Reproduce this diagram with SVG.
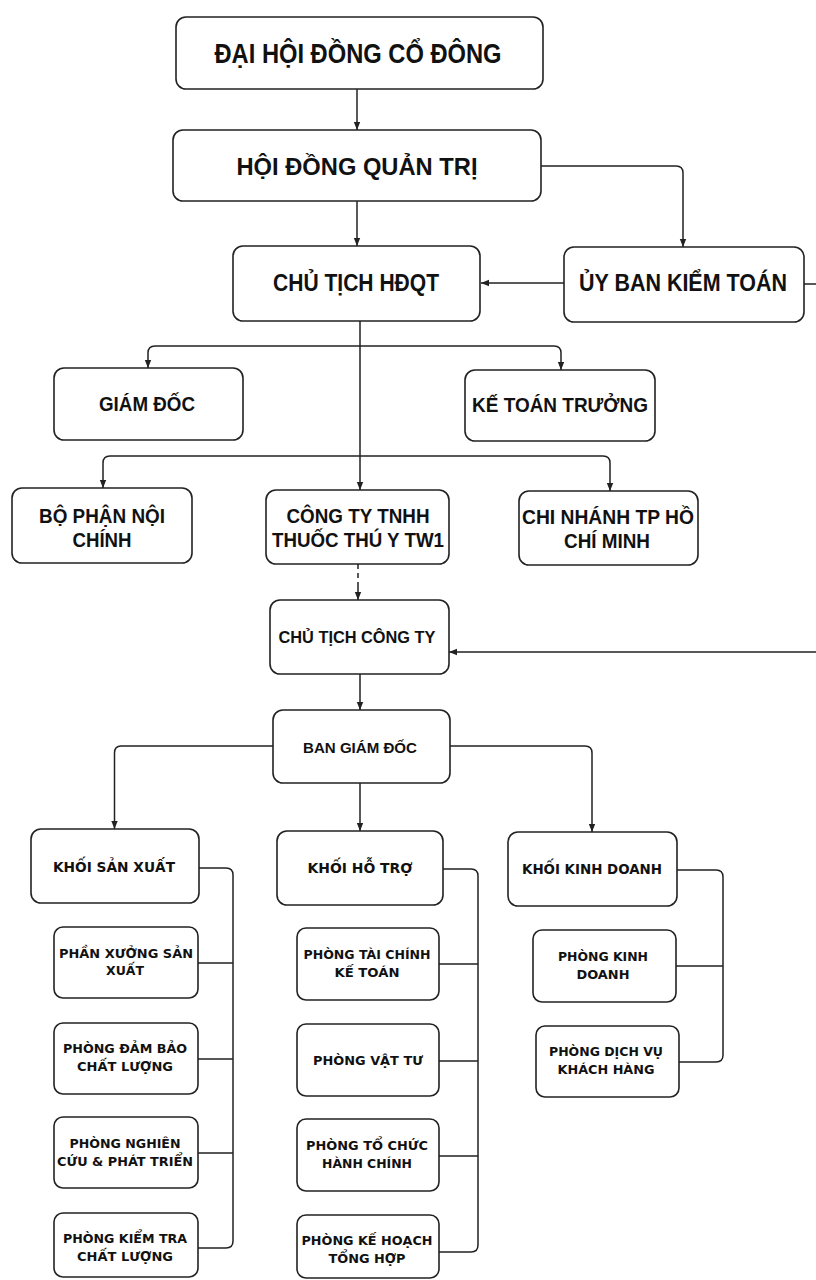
<svg xmlns="http://www.w3.org/2000/svg" width="816" height="1280" viewBox="0 0 816 1280">
<style>
.box{fill:#fff;stroke:#222;stroke-width:1.6}
.ln{fill:none;stroke:#222;stroke-width:1.5}
.t1{font-family:"Liberation Sans",Arial,sans-serif;font-weight:bold;fill:#111;text-anchor:middle}
.t2{font-family:"DejaVu Sans","Liberation Sans",sans-serif;font-weight:bold;fill:#111;text-anchor:middle}
</style>
<defs>
<marker id="ah" viewBox="0 0 10 10" refX="10" refY="5" markerWidth="8" markerHeight="8" markerUnits="userSpaceOnUse" orient="auto"><path d="M0,1 L10,5 L0,9 z" fill="#222"/></marker>
</defs>
<rect width="816" height="1280" fill="#fff"/>
<g id="connectors">
<path class="ln" d="M357,89 V130" marker-end="url(#ah)"/>
<path class="ln" d="M357,201 V246" marker-end="url(#ah)"/>
<path class="ln" d="M541,166 H676 Q683,166 683,173 V247" marker-end="url(#ah)"/>
<path class="ln" d="M564,283 H481" marker-end="url(#ah)"/>
<path class="ln" d="M804,284 H830 V652 H449" marker-end="url(#ah)"/>
<path class="ln" d="M360,321 V490" marker-end="url(#ah)"/>
<path class="ln" d="M360,346 H155 Q148,346 148,353 V368" marker-end="url(#ah)"/>
<path class="ln" d="M360,346 H554 Q561,346 561,353 V370" marker-end="url(#ah)"/>
<path class="ln" d="M360,456 H110 Q103,456 103,463 V488" marker-end="url(#ah)"/>
<path class="ln" d="M360,456 H603 Q610,456 610,463 V491" marker-end="url(#ah)"/>
<path class="ln" d="M358,564 V586" stroke-dasharray="5 4"/>
<path class="ln" d="M358,586 V600" marker-end="url(#ah)"/>
<path class="ln" d="M360,674 V710" marker-end="url(#ah)"/>
<path class="ln" d="M273,746 H121 Q114.5,746 114.5,753 V829" marker-end="url(#ah)"/>
<path class="ln" d="M450,746 H585 Q592,746 592,753 V832" marker-end="url(#ah)"/>
<path class="ln" d="M360,783 V831" marker-end="url(#ah)"/>
<path class="ln" d="M199,868 H226 Q233,868 233,875 V1241 Q233,1248 226,1248 H198 M198,963 H233 M198,1059 H233 M198,1153 H233"/>
<path class="ln" d="M443,869 H471 Q478,869 478,876 V1245 Q478,1252 471,1252 H439 M439,964 H478 M439,1061 H478 M439,1156 H478"/>
<path class="ln" d="M677,870 H716 Q723,870 723,877 V1055 Q723,1062 716,1062 H679 M676,966 H723"/>
</g>
<g id="dai-hoi-dong-co-dong"><rect class="box" x="176" y="17" width="367" height="72" rx="10"/><text class="t1" x="358" y="63" font-size="27" textLength="287" lengthAdjust="spacingAndGlyphs">ĐẠI HỘI ĐỒNG CỔ ĐÔNG</text></g>
<g id="hoi-dong-quan-tri"><rect class="box" x="173" y="130" width="368" height="71" rx="10"/><text class="t1" x="357" y="175" font-size="24" textLength="241" lengthAdjust="spacingAndGlyphs">HỘI ĐỒNG QUẢN TRỊ</text></g>
<g id="chu-tich-hdqt"><rect class="box" x="233" y="246" width="247" height="75" rx="10"/><text class="t1" x="356" y="291" font-size="23" textLength="166" lengthAdjust="spacingAndGlyphs">CHỦ TỊCH HĐQT</text></g>
<g id="uy-ban-kiem-toan"><rect class="box" x="564" y="247" width="240" height="75" rx="10"/><text class="t1" x="683" y="291" font-size="23" textLength="208" lengthAdjust="spacingAndGlyphs">ỦY BAN KIỂM TOÁN</text></g>
<g id="giam-doc"><rect class="box" x="54" y="368" width="189" height="72" rx="10"/><text class="t1" x="147" y="411" font-size="21" textLength="96" lengthAdjust="spacingAndGlyphs">GIÁM ĐỐC</text></g>
<g id="ke-toan-truong"><rect class="box" x="465" y="370" width="190" height="71" rx="10"/><text class="t1" x="560" y="412" font-size="21" textLength="176" lengthAdjust="spacingAndGlyphs">KẾ TOÁN TRƯỞNG</text></g>
<g id="bo-phan-noi-chinh"><rect class="box" x="12" y="488" width="180" height="75" rx="10"/><text class="t1" x="102" y="523" font-size="21" textLength="126" lengthAdjust="spacingAndGlyphs">BỘ PHẬN NỘI</text><text class="t1" x="102" y="547" font-size="21" textLength="59" lengthAdjust="spacingAndGlyphs">CHÍNH</text></g>
<g id="cong-ty-tnhh"><rect class="box" x="266" y="490" width="183" height="74" rx="10"/><text class="t1" x="358" y="523" font-size="21" textLength="143" lengthAdjust="spacingAndGlyphs">CÔNG TY TNHH</text><text class="t1" x="358" y="547" font-size="21" textLength="172" lengthAdjust="spacingAndGlyphs">THUỐC THÚ Y TW1</text></g>
<g id="chi-nhanh-hcm"><rect class="box" x="519" y="491" width="179" height="74" rx="10"/><text class="t1" x="608" y="524" font-size="21" textLength="172" lengthAdjust="spacingAndGlyphs">CHI NHÁNH TP HỒ</text><text class="t1" x="607" y="548" font-size="21" textLength="86" lengthAdjust="spacingAndGlyphs">CHÍ MINH</text></g>
<g id="chu-tich-cong-ty"><rect class="box" x="270" y="600" width="179" height="74" rx="10"/><text class="t1" x="357" y="643" font-size="16" textLength="157" lengthAdjust="spacingAndGlyphs">CHỦ TỊCH CÔNG TY</text></g>
<g id="ban-giam-doc"><rect class="box" x="273" y="710" width="177" height="73" rx="10"/><text class="t1" x="360" y="753" font-size="15" textLength="114" lengthAdjust="spacingAndGlyphs">BAN GIÁM ĐỐC</text></g>
<g id="khoi-san-xuat"><rect class="box" x="31" y="829" width="168" height="74" rx="10"/><text class="t2" x="114" y="872" font-size="14" textLength="122" lengthAdjust="spacingAndGlyphs">KHỐI SẢN XUẤT</text></g>
<g id="phan-xuong"><rect class="box" x="54" y="927" width="144" height="71" rx="9"/><text class="t2" x="126" y="958" font-size="11.5" textLength="134" lengthAdjust="spacingAndGlyphs">PHẦN XƯỞNG SẢN</text><text class="t2" x="125" y="975" font-size="11.5" textLength="38" lengthAdjust="spacingAndGlyphs">XUẤT</text></g>
<g id="phong-dam-bao"><rect class="box" x="54" y="1023" width="144" height="71" rx="9"/><text class="t2" x="125" y="1053" font-size="11.5" textLength="124" lengthAdjust="spacingAndGlyphs">PHÒNG ĐẢM BẢO</text><text class="t2" x="125" y="1071" font-size="11.5" textLength="96" lengthAdjust="spacingAndGlyphs">CHẤT LƯỢNG</text></g>
<g id="phong-nghien-cuu"><rect class="box" x="54" y="1117" width="144" height="71" rx="9"/><text class="t2" x="125" y="1148" font-size="11.5" textLength="111" lengthAdjust="spacingAndGlyphs">PHÒNG NGHIÊN</text><text class="t2" x="125" y="1166" font-size="11.5" textLength="136" lengthAdjust="spacingAndGlyphs">CỨU &amp; PHÁT TRIỂN</text></g>
<g id="phong-kiem-tra"><rect class="box" x="54" y="1213" width="144" height="64" rx="9"/><text class="t2" x="125" y="1243" font-size="11.5" textLength="124" lengthAdjust="spacingAndGlyphs">PHÒNG KIỂM TRA</text><text class="t2" x="125" y="1261" font-size="11.5" textLength="96" lengthAdjust="spacingAndGlyphs">CHẤT LƯỢNG</text></g>
<g id="khoi-ho-tro"><rect class="box" x="277" y="831" width="166" height="74" rx="10"/><text class="t2" x="360" y="873" font-size="14" textLength="105" lengthAdjust="spacingAndGlyphs">KHỐI HỖ TRỢ</text></g>
<g id="phong-tai-chinh"><rect class="box" x="297" y="928" width="142" height="72" rx="9"/><text class="t2" x="367" y="959" font-size="11.5" textLength="127" lengthAdjust="spacingAndGlyphs">PHÒNG TÀI CHÍNH</text><text class="t2" x="367" y="977" font-size="11.5" textLength="65" lengthAdjust="spacingAndGlyphs">KẾ TOÁN</text></g>
<g id="phong-vat-tu"><rect class="box" x="297" y="1024" width="142" height="72" rx="9"/><text class="t2" x="368" y="1065" font-size="11.5" textLength="110" lengthAdjust="spacingAndGlyphs">PHÒNG VẬT TƯ</text></g>
<g id="phong-to-chuc"><rect class="box" x="297" y="1119" width="142" height="72" rx="9"/><text class="t2" x="367" y="1150" font-size="11.5" textLength="122" lengthAdjust="spacingAndGlyphs">PHÒNG TỔ CHỨC</text><text class="t2" x="367" y="1168" font-size="11.5" textLength="90" lengthAdjust="spacingAndGlyphs">HÀNH CHÍNH</text></g>
<g id="phong-ke-hoach"><rect class="box" x="297" y="1215" width="142" height="63" rx="9"/><text class="t2" x="367" y="1245" font-size="11.5" textLength="131" lengthAdjust="spacingAndGlyphs">PHÒNG KẾ HOẠCH</text><text class="t2" x="367" y="1263" font-size="11.5" textLength="77" lengthAdjust="spacingAndGlyphs">TỔNG HỢP</text></g>
<g id="khoi-kinh-doanh"><rect class="box" x="508" y="832" width="169" height="74" rx="10"/><text class="t2" x="592" y="874" font-size="14" textLength="140" lengthAdjust="spacingAndGlyphs">KHỐI KINH DOANH</text></g>
<g id="phong-kinh-doanh"><rect class="box" x="533" y="930" width="143" height="72" rx="9"/><text class="t2" x="603" y="961" font-size="11.5" textLength="90" lengthAdjust="spacingAndGlyphs">PHÒNG KINH</text><text class="t2" x="603" y="979" font-size="11.5" textLength="53" lengthAdjust="spacingAndGlyphs">DOANH</text></g>
<g id="phong-dich-vu"><rect class="box" x="536" y="1026" width="143" height="71" rx="9"/><text class="t2" x="606" y="1056" font-size="11.5" textLength="114" lengthAdjust="spacingAndGlyphs">PHÒNG DỊCH VỤ</text><text class="t2" x="606" y="1074" font-size="11.5" textLength="97" lengthAdjust="spacingAndGlyphs">KHÁCH HÀNG</text></g>
</svg>
